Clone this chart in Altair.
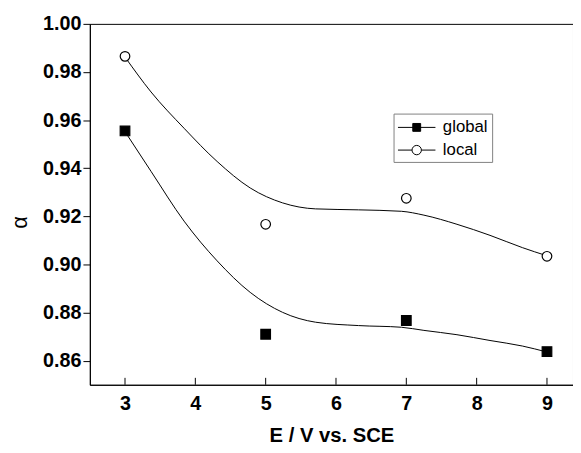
import altair as alt
import pandas as pd

series = ["global", "local"]
e_values = [3, 5, 7, 9]
global_alpha = [0.9555, 0.8710, 0.8767, 0.8638]
local_alpha = [0.9865, 0.9167, 0.9275, 0.9034]

fit_e = [3.00, 3.37, 3.84, 4.31, 4.78, 5.24, 5.71, 6.32, 6.93, 7.25, 7.72, 8.19, 8.65, 9.00]
global_fit = [0.9552, 0.9387, 0.9180, 0.9015, 0.8884, 0.8801, 0.8760, 0.8746, 0.8739,
              0.8726, 0.8708, 0.8684, 0.8661, 0.8636]
local_fit = [0.9862, 0.9717, 0.9566, 0.9428, 0.9318, 0.9256, 0.9231, 0.9227, 0.9221,
             0.9205, 0.9167, 0.9121, 0.9070, 0.9036]

x_ticks = [3, 4, 5, 6, 7, 8, 9]
y_ticks = [0.86, 0.88, 0.90, 0.92, 0.94, 0.96, 0.98, 1.00]

FONT = "Liberation Sans"

points = pd.DataFrame({
    "E": e_values * 2,
    "alpha": global_alpha + local_alpha,
    "series": ["global"] * len(e_values) + ["local"] * len(e_values),
})
fits = pd.DataFrame({
    "E": fit_e * 2,
    "alpha": global_fit + local_fit,
    "series": ["global"] * len(fit_e) + ["local"] * len(fit_e),
})
ticks_df = pd.DataFrame({"E": x_ticks})

x_scale = alt.Scale(domain=[2.5, 9.37], nice=False, zero=False)
y_scale = alt.Scale(domain=[0.85, 1.00], nice=False, zero=False)

x_enc = alt.X(
    "E:Q", scale=x_scale,
    axis=alt.Axis(
        values=x_ticks, format="d", ticks=False, tickSize=0, grid=False,
        domainColor="black", domainWidth=1,
        labelFont=FONT, labelFontSize=20, labelFontWeight="bold", labelColor="black",
        labelPadding=9,
        title="E / V vs. SCE", titleFont=FONT, titleFontSize=20.5, titleFontWeight="bold",
        titleColor="black", titleY=58, titleBaseline="alphabetic",
    ),
)
y_enc = alt.Y(
    "alpha:Q", scale=y_scale,
    axis=alt.Axis(
        values=y_ticks, format=".2f", tickSize=7, tickColor="black", grid=False,
        domainColor="black", domainWidth=1,
        labelFont=FONT, labelFontSize=20, labelFontWeight="bold", labelColor="black",
        labelPadding=2,
        title="α", titleFont=FONT, titleFontSize=22, titleFontWeight="normal",
        titleColor="black", titleX=-71, titleY=201, titleAngle=270,
        titleAlign="center", titleBaseline="middle",
    ),
)

curves = alt.Chart(fits).mark_line(
    color="black", strokeWidth=1, interpolate="monotone"
).encode(x=x_enc, y=y_enc, detail="series:N")

dots = alt.Chart(points).mark_point(
    size=95, strokeWidth=1.2, stroke="black", opacity=1
).encode(
    x="E:Q", y="alpha:Q",
    shape=alt.Shape("series:N", scale=alt.Scale(domain=series, range=["square", "circle"]), legend=None),
    fill=alt.Fill("series:N", scale=alt.Scale(domain=series, range=["black", "white"]), legend=None),
)

inner_ticks = alt.Chart(ticks_df).mark_rule(color="black", strokeWidth=1).encode(
    x="E:Q", y=alt.value(366), y2=alt.value(359)
)

square_path = "M-1,0H3M0.58,-0.42H1.42V0.42H0.58Z"
circle_path = "M-1,0H0.5M1.5,0H3M1.5,0A0.5,0.5 0 1 1 0.5,0A0.5,0.5 0 1 1 1.5,0Z"

legend_layer = alt.Chart(points).transform_filter("false").mark_point(
    size=361, strokeWidth=1, opacity=1
).encode(
    x="E:Q", y="alpha:Q",
    shape=alt.Shape(
        "series:N",
        scale=alt.Scale(domain=series, range=[square_path, circle_path]),
        legend=alt.Legend(title=None),
    ),
    fill=alt.Fill(
        "series:N",
        scale=alt.Scale(domain=series, range=["black", "white"]),
        legend=alt.Legend(title=None),
    ),
    stroke=alt.Stroke(
        "series:N",
        scale=alt.Scale(domain=series, range=["black", "black"]),
        legend=alt.Legend(title=None),
    ),
)

chart = alt.layer(curves, dots, inner_ticks, legend_layer).resolve_scale(
    shape="independent", fill="independent", stroke="independent"
).properties(
    width=490, height=366,
    autosize=alt.AutoSizeParams(type="none"),
    padding={"left": 83, "top": 13, "right": 0, "bottom": 58},
).configure_view(
    stroke="black", strokeWidth=1
).configure_legend(
    orient="none", legendX=308, legendY=91,
    strokeColor="#808080", strokeWidth=1, padding=4, rowPadding=5,
    labelFont=FONT, labelFontSize=17, labelColor="black", labelOffset=26,
    symbolSize=361, symbolStrokeWidth=1,
)

chart.save("out.html", embed_options={"renderer": "svg", "actions": False})
